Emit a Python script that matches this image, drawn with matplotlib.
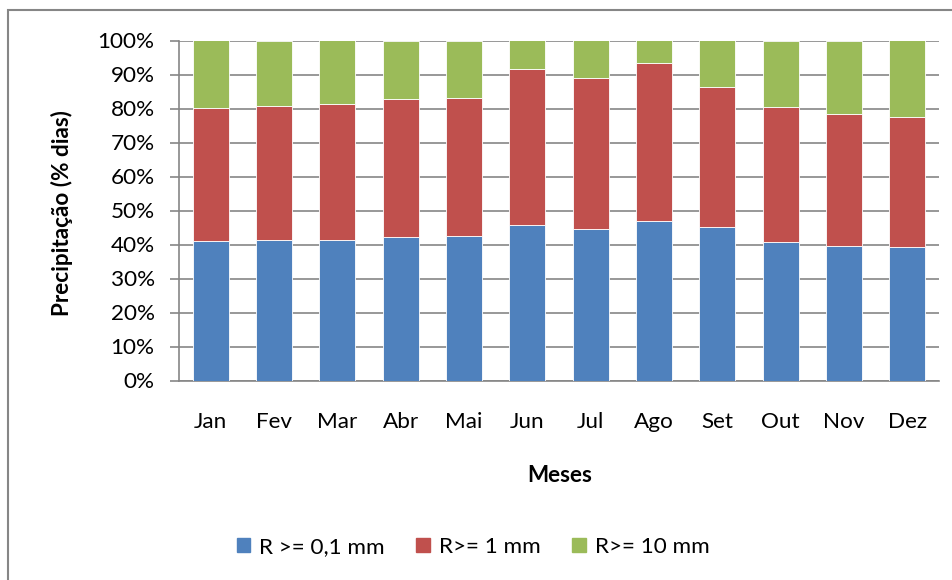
import matplotlib
matplotlib.use("Agg")
import matplotlib.pyplot as plt
from matplotlib.patches import Patch, Rectangle
from matplotlib.ticker import PercentFormatter

# Dados (percentagem acumulada de dias)
meses = ["Jan", "Fev", "Mar", "Abr", "Mai", "Jun", "Jul", "Ago", "Set", "Out", "Nov", "Dez"]
r_01 = [41.0, 41.3, 41.3, 42.2, 42.4, 45.8, 44.6, 46.9, 45.1, 40.6, 39.6, 39.4]
r_1_topo = [80.1, 80.6, 81.2, 82.9, 83.2, 91.5, 89.0, 93.4, 86.2, 80.3, 78.5, 77.6]
r_10_topo = [100] * 12

r_1 = [t - b for t, b in zip(r_1_topo, r_01)]
r_10 = [t - b for t, b in zip(r_10_topo, r_1_topo)]

cores = {"azul": "#4F81BD", "vermelho": "#C0504D", "verde": "#9BBB59"}
rotulos = ["R >= 0,1 mm", "R>= 1 mm", "R>= 10 mm"]

plt.rcParams["font.family"] = ["Lato", "DejaVu Sans"]
fs = 16.2

fig = plt.figure(figsize=(9.53, 5.8), dpi=100)
ax = fig.add_axes([179 / 953, 1 - 380.5 / 580, 760 / 953, 340 / 580])

x = list(range(len(meses)))
w = 0.57
ax.bar(x, r_01, w, color=cores["azul"], edgecolor="white", linewidth=0.6, zorder=3)
ax.bar(x, r_1, w, bottom=r_01, color=cores["vermelho"], edgecolor="white", linewidth=0.6, zorder=3)
ax.bar(x, r_10, w, bottom=r_1_topo, color=cores["verde"], edgecolor="white", linewidth=0.6, zorder=3)

ax.set_xlim(-0.5, len(meses) - 0.5)
ax.set_ylim(0, 100)
ax.set_yticks(range(0, 101, 10))
ax.yaxis.set_major_formatter(PercentFormatter(decimals=0))
ax.set_xticks(x)
ax.set_xticklabels(meses)

ax.grid(True, axis="y", color="#868686", linewidth=1.2, zorder=0)
for lado in ["top", "right"]:
    ax.spines[lado].set_visible(False)
for lado in ["left", "bottom"]:
    ax.spines[lado].set_color("#868686")
    ax.spines[lado].set_linewidth(1.2)

ax.tick_params(axis="y", direction="out", length=6.5, width=1.2, color="#868686",
               labelsize=fs, pad=11)
ax.tick_params(axis="x", length=0, labelsize=fs, pad=23)

fig.text(62 / 953, 1 - 213 / 580, "Precipitação (% dias)", rotation=90,
         ha="center", va="center", fontsize=fs, fontweight="bold")
fig.text(560 / 953, 1 - 475 / 580, "Meses", ha="center", va="center",
         fontsize=fs, fontweight="bold")

handles = [Patch(color=cores["azul"], label=rotulos[0]),
           Patch(color=cores["vermelho"], label=rotulos[1]),
           Patch(color=cores["verde"], label=rotulos[2])]
fig.legend(handles=handles, loc="center", bbox_to_anchor=(473 / 953, 1 - 547 / 580),
           ncol=3, frameon=False, fontsize=fs, handlelength=0.6, handleheight=0.6,
           handletextpad=0.4, columnspacing=1.4)

# moldura do gráfico (apenas esquerda e topo visíveis)
fig.patches.append(Rectangle((8 / 953, -0.1), 1.2, 1.1 - 10 / 580, transform=fig.transFigure,
                             fill=False, edgecolor="#868686", linewidth=1.5))

fig.savefig("out.png", dpi=100)
